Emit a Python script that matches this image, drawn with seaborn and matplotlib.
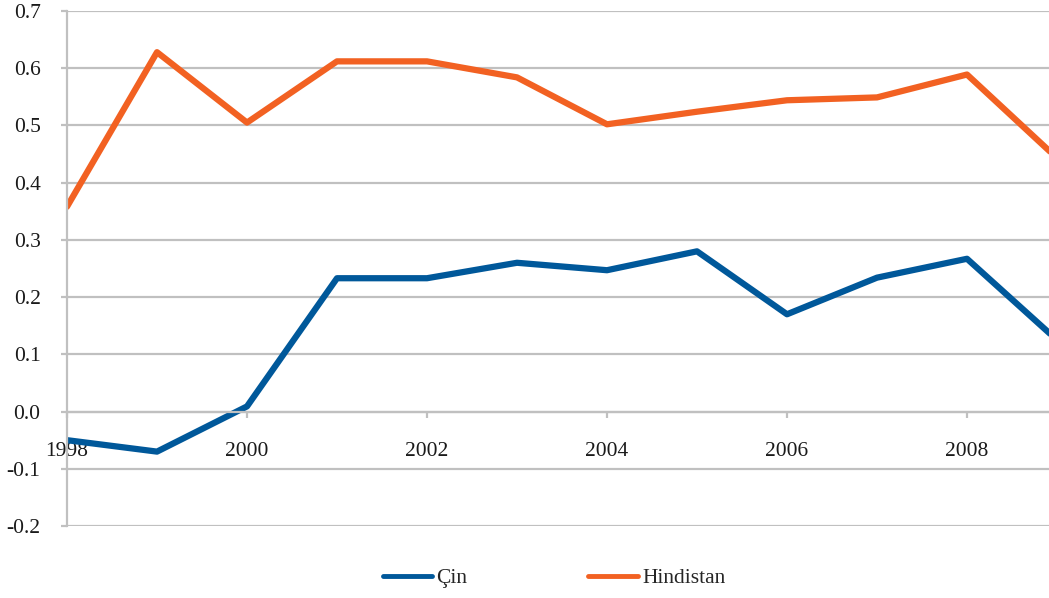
import numpy as np
import pandas as pd
import matplotlib
matplotlib.use('Agg')
import matplotlib.pyplot as plt
import seaborn as sns

years = [1998, 1999, 2000, 2001, 2002, 2003, 2004, 2005, 2006, 2007, 2008, 2009]
cin = [-0.05, -0.07, 0.009, 0.233, 0.233, 0.26, 0.247, 0.28, 0.17, 0.234, 0.267, 0.125]
hindistan = [0.358, 0.628, 0.505, 0.612, 0.612, 0.584, 0.502, 0.524, 0.544, 0.549, 0.589, 0.443]
series_names = ['Çin', 'Hindistan']
colors = ['#00589A', '#F26122']
y_ticks = [-0.2, -0.1, 0.0, 0.1, 0.2, 0.3, 0.4, 0.5, 0.6, 0.7]
x_ticks = [1998, 2000, 2002, 2004, 2006, 2008]

df = pd.DataFrame({
    'year': years * 2,
    'value': cin + hindistan,
    'series': [series_names[0]] * len(years) + [series_names[1]] * len(years),
})

sns.set_theme(style='white')
plt.rcParams['font.family'] = ['Liberation Serif', 'DejaVu Serif']

W, H = 1049, 598
fig = plt.figure(figsize=(W / 100, H / 100), dpi=100)
ax = fig.add_axes([67 / W, 1 - 526 / H, (W - 67) / W, (526 - 11) / H])

sns.lineplot(data=df, x='year', y='value', hue='series', palette=colors,
             linewidth=4.5, ax=ax, legend=False, sort=False)

grid_c = '#C0C0C0'
ax.set_ylim(-0.2, 0.7)
ax.set_xlim(1998, 1998 + (W - 67) / 90)
ax.set_yticks(y_ticks)
ax.set_yticklabels([f'{v:.1f}' for v in y_ticks])
ax.set_xticks(x_ticks)
ax.set_xticklabels([str(v) for v in x_ticks])
ax.yaxis.grid(True, color=grid_c, linewidth=1.6)
ax.xaxis.grid(False)

for s in ['top', 'right']:
    ax.spines[s].set_visible(False)
ax.spines['left'].set_color(grid_c)
ax.spines['left'].set_linewidth(1.6)
ax.spines['bottom'].set_position(('data', 0))
ax.spines['bottom'].set_color(grid_c)
ax.spines['bottom'].set_linewidth(1.6)

ax.tick_params(axis='y', length=4, width=1.6, color=grid_c, pad=15,
               labelsize=15.5, labelcolor='#1a1a1a', left=True)
ax.tick_params(axis='x', length=4, width=1.6, color=grid_c, pad=18,
               labelsize=15.5, labelcolor='#1a1a1a', bottom=True)
ax.set_xlabel('')
ax.set_ylabel('')

handles = [plt.Line2D([], [], color=c, linewidth=3.5, solid_capstyle='round') for c in colors]
fig.legend(handles, series_names, loc='center', bbox_to_anchor=(554 / W, 1 - 578 / H),
           ncol=2, frameon=False, fontsize=15.5, handlelength=2.3, handletextpad=0.2,
           columnspacing=5.6)

fig.savefig('out.png', dpi=100)
